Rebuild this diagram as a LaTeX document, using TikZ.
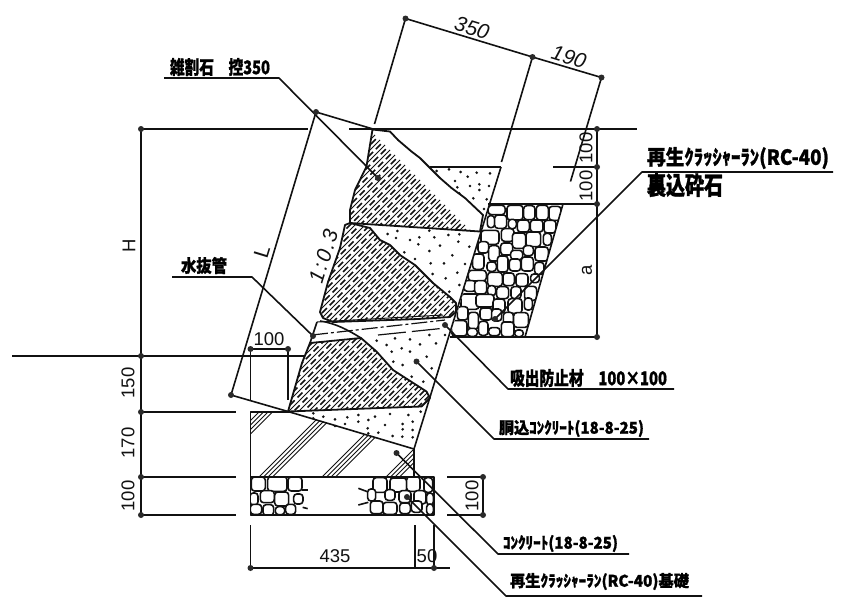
\documentclass[tikz,border=0pt]{standalone}
\usepackage{graphicx}
\usepackage{fontspec}
\setmainfont{Liberation Sans}
\newfontfamily\jp[BoldFeatures={FakeBold=1.1}]{Noto Sans CJK JP}
\usetikzlibrary{calc}
\definecolor{ink}{HTML}{111111}
\definecolor{dotc}{HTML}{2A2A2A}
\newcommand{\cellb}[4]{\filldraw[fill=white,draw=ink,line width=1.6pt,rounded corners=3.2pt] ({#1-#3/2-3},{#2-#4/2-3}) rectangle ({#1+#3/2+3},{#2+#4/2+3});}
\newcommand{\jtext}[6]{\node[inner sep=0pt,anchor=center] (#1) at ({(#2+#3)/2},{(#4+#5)/2}) {\resizebox*{\dimexpr#3pt-#2pt\relax}{\dimexpr#5pt-#4pt\relax}{\jp\bfseries #6}};}
\tikzset{
 ln/.style={line width=1.6pt,draw=ink,line join=round},
 dimtxt/.style={inner sep=0pt,font=\fontsize{18.5}{18.5}\selectfont,text=ink},
 bigtxt/.style={inner sep=0pt,font=\fontsize{21}{21}\selectfont\itshape,text=ink},
 dimdot/.style={fill=dotc},
 gdot/.style={fill=ink},
 hatchsolid/.style={line width=1pt,draw=ink},
 hatchdash/.style={line width=1.5pt,draw=ink,dash pattern=on 7pt off 4pt},
 band/.style={line width=1pt,draw=ink}
}
\newcommand{\hatchstone}[1]{%
 \begin{scope}
  \clip #1;
  \foreach \k in {480,490,...,960}{\draw[hatchsolid] ({\k/2-120},{\k/2+120}) -- ({\k/2+120},{\k/2-120});}
  \foreach \k in {485,495,...,960}{\draw[hatchdash] ({\k/2-120},{\k/2+120}) -- ({\k/2+120},{\k/2-120});}
 \end{scope}
 \draw[ln,line width=1.8pt] #1;}
\begin{document}
\begin{tikzpicture}[x=1pt,y=-1pt]
\useasboundingbox (0,0) rectangle (843,603);
\fill[white] (0,0) rectangle (843,603);
% named points
\coordinate (dA) at (405.5,18.5);
\coordinate (dB) at (532.5,57);
\coordinate (dC) at (601.5,77.5);
\coordinate (dL1) at (316,112);
\coordinate (dL2) at (231,395);
\coordinate (wallTop) at (373,129);
\coordinate (wallBase) at (288,411.5);
\coordinate (backR) at (414,449);
\coordinate (fillTopR) at (501,167);
\coordinate (hL) at (141,129);
\coordinate (hG) at (141,356);
\coordinate (h1) at (141,412);
\coordinate (h2) at (141,477);
\coordinate (h3) at (141,515);
\coordinate (r0) at (597,129);
\coordinate (r1) at (597,167);
\coordinate (r2) at (597,204);
\coordinate (r3) at (597,337);
\coordinate (wA) at (250.5,349);
\coordinate (wB) at (288,349);
\coordinate (bA) at (250.5,568);
\coordinate (bB) at (434,568);
\coordinate (fA) at (483,477);
\coordinate (fB) at (483,515);
\coordinate (pStone) at (378,178);
\coordinate (pDrain) at (313,336);
\coordinate (pMat) at (445,325);
\coordinate (pFill) at (416.5,361.5);
\coordinate (pConc) at (396.5,453);
\coordinate (pBase) at (407,497);
\coordinate (pBack) at (495,319);

% dots of the fill
\begin{scope}[shift={(340,100)},x=.3333pt,y=-.3333pt]
\foreach \a/\b in {290/213,327/208,362/216,410/218,450/220,383/230,345/243,352/262,390/258,418/253,447/258,418/270,358/280,400/295,440/298,432/327,
143/402,172/393,168/414,210/420,238/412,268/392,283/412,325/405,358/403,355/425,388/440,235/433,300/437,337/466,375/492,268/453,193/457,272/490,312/490,352/518,225/477,278/522,317/535,358/555,328/575}
 {\fill[gdot] (\a,\b) circle (4.4);}
\end{scope}
\begin{scope}[shift={(230,300)},x=.3333pt,y=-.3333pt]
\foreach \a/\b in {440/122,495/115,540/118,598/105,645/105,470/135,515/145,570/133,618/130,433/152,485/155,540/155,590/170,490/185,518/195,605/205,545/230,580/245,250/340,280/350,315/358,352/352,385/345,435/350,480/342,535/345,572/335,250/355,385/365,345/372,315/378,415/360,465/375,518/372,548/365,413/385,445/398,488/408,518/388,548/390,415/400,517/410,548/412}
 {\fill[gdot] (\a,\b) circle (4.4);}
\end{scope}

% concrete hatch
\begin{scope}
 \clip (250.5,412) -- (290,412) -- (backR) -- (414,477) -- (250.5,477) -- cycle;
 \foreach \k in {671,675.5,680,684.5,736,740.5,745,749.5,799,803.5,808,812.5,863,867.5,872,876.5}
  {\draw[line width=1pt,draw=ink] ({\k/2-150},{\k/2+150}) -- ({\k/2+150},{\k/2-150});}
\end{scope}
\draw[ln] (250.5,477) -- (250.5,412) -- (290,412);
\draw[ln] (wallBase) -- (backR) -- (414,477);

% stones
\hatchstone{(372.5,129.5) -- (390,131.5) -- (398,140) -- (411.5,151.5) -- (420,158) -- (430,168) -- (440,178) -- (451.5,188) -- (465,198) -- (483,215) -- (480,231.5) -- (427,228) -- (350,223) -- (350,210) -- (355,190) -- (366.5,166.5) -- cycle}
\hatchstone{(350,223) -- (345,225) -- (340,248) -- (328,282) -- (320,312) -- (323,318) -- (333,322) -- (418,319) -- (450,317) -- (456,312) -- (456,303) -- (450,297) -- (433,283) -- (415,265) -- (400,255) -- (390,245) -- (380,240) -- (370,228) -- cycle}
\hatchstone{(310,343) -- (361,338) -- (376.5,351.5) -- (393,370) -- (426.5,391.5) -- (430,398) -- (421.5,406.5) -- (380,408) -- (288,411.5) -- (302,363) -- cycle}

% drain band
\draw[band] (317,322) -- (443,315);
\draw[band,line width=1.2pt,dash pattern=on 16pt off 3pt on 3pt off 3pt] (312,335) -- (445,320);
\draw[band,line width=1.2pt,dash pattern=on 28pt off 6pt] (378,335) -- (441,328.5);
\draw[ln] (317,322) -- (310,343);
\draw[ln] (320,321) .. controls (335,323) and (348,330) .. (361,338);

% cobble backing
\begin{scope}
 \clip (489.5,204) -- (563,204) -- (525,337) -- (450,337) -- cycle;
 \begin{scope}[shift={(340,100)},x=.3333pt,y=-.3333pt]
 \foreach \a/\b/\c/\d in {470/330/45/22,525/338/42/38,568/338/28/36,607/338/30/38,645/340/30/36,
  453/365/16/30,482/365/30/34,517/372/18/22,550/378/30/30,590/378/32/30,630/380/30/32,
  450/412/48/36,503/405/32/32,580/418/38/38,537/422/34/40,622/418/18/30,
  430/442/26/28,462/460/26/40,500/447/30/30,565/452/24/24,605/462/34/36,530/465/30/22,
  415/485/28/40,455/500/22/22,488/492/26/42,525/495/28/30,562/492/30/36,598/505/22/30,
  412/527/48/26,465/538/38/36,506/538/28/32,546/540/30/32,585/535/20/20,
  390/558/30/26,422/562/30/34,455/572/18/24,488/578/30/30,528/578/24/30,572/580/30/36,
  390/605/48/40,435/602/48/32,477/618/30/36,525/618/36/38,565/612/18/30,
  368/640/26/34,400/662/24/44,438/642/30/30,470/645/24/30,505/655/24/30,543/660/38/38,
  358/685/40/40,397/697/24/18,430/685/22/36,463/695/28/18,503/688/32/38,537/700/20/14}
  {\cellb{\a}{\b}{\c}{\d}}
 \end{scope}
\end{scope}
\draw[ln] (489.5,204) -- (563,204) -- (525,337) -- (450,337);

% foundation
\begin{scope}
 \clip (250.5,477) rectangle (434,515);
 \begin{scope}[shift={(230,300)},x=.3333pt,y=-.3333pt]
 \foreach \a/\b/\c/\d in {85/552/36/36,142/552/52/38,195/552/36/36,72/597/18/30,112/590/36/30,155/597/36/36,205/597/22/24,78/628/28/24,115/630/26/26,150/632/22/18,182/628/24/24,
  450/555/36/38,505/555/44/36,550/552/34/38,595/555/20/38,425/585/18/30,480/585/24/26,525/590/30/30,570/592/30/34,600/597/14/30,440/622/32/32,480/625/36/30,525/625/26/26,560/620/26/28,600/628/14/26}
  {\cellb{\a}{\b}{\c}{\d}}
 \draw[ln] (215,570) -- (233,570);
 \draw[ln] (218,622) -- (233,626);
 \draw[ln] (385,565) -- (412,575);
 \draw[ln] (385,615) -- (415,607);
 \end{scope}
\end{scope}
\draw[ln] (250.5,477) rectangle (434,515);

% wall back line and its extension
\draw[ln] (backR) -- (fillTopR);
\draw[ln] (430,167) -- (fillTopR);
\draw[ln] (501.5,162) -- (dB);
\draw[ln] (488,204) -- (r2);
\draw[ln] (525,337) -- (r3);
\draw[ln] (553,167) -- (r1);

% dimension lines
\draw[ln] (dA) -- (dB) -- (dC);
\draw[ln] (dA) -- (374.5,124);
\draw[ln] (dC) -- (570.5,181.5);
\draw[ln] (dL1) -- (dL2);
\draw[ln] (dL1) -- (wallTop);
\draw[ln] (dL2) -- (wallBase);
\draw[ln] (hL) -- (308,129);
\draw[ln] (349,129) -- (637,129);
\draw[ln] (hL) -- (h3);
\draw[ln] (12,356) -- (305,356);
\draw[ln] (h1) -- (236,412);
\draw[ln] (h2) -- (236,477);
\draw[ln] (h3) -- (236,515);
\draw[ln] (r0) -- (r3);
\draw[ln] (wA) -- (wB);
\draw[ln] (wA) -- (250.5,401);
\draw[ln] (wB) -- (288,400);
\draw[ln] (250.5,525) -- (bA) -- (bB) -- (450,568);
\draw[ln] (415,525) -- (415,568);
\draw[ln] (bB) -- (434,525);
\draw[ln] (447,477) -- (fA) -- (fB) -- (447,515);

% leaders
\draw[ln] (164,78) -- (279,78) -- (pStone);
\draw[ln] (172,277) -- (252,277) -- (pDrain);
\draw[ln] (pBack) -- (642,172) -- (833,172);
\draw[ln] (pMat) -- (508,389) -- (674,389);
\draw[ln] (pFill) -- (494,439) -- (649,439);
\draw[ln] (pConc) -- (498,554) -- (629,554);
\draw[ln] (pBase) -- (506,596) -- (702,596);

% dots
\foreach \p in {dA,dB,dC,dL1,dL2,hL,hG,h1,h2,h3,r0,r1,r2,r3,wA,wB,bA,bB,fA,fB,pStone,pDrain,pMat,pFill,pConc,pBase,pBack}
 {\fill[dimdot] (\p) circle (3);}

% dimension text
\node[bigtxt,rotate=-17] (t350) at (472,28) {350};
\node[bigtxt,rotate=-17] (t190) at (569,57) {190};
\node[dimtxt,rotate=73] (tL) at (262,252) {\fontsize{21}{21}\selectfont L};
\node[bigtxt,rotate=73] (tslope) at (324,256) {\addfontfeature{LetterSpace=9}1:0.3};
\node[dimtxt,rotate=90] (tH) at (129,246) {H};
\node[dimtxt,rotate=90] (t150) at (128,383) {150};
\node[dimtxt,rotate=90] (t170) at (128,443) {170};
\node[dimtxt,rotate=90] (t100a) at (128,496) {100};
\node[dimtxt] (t100b) at (269,339) {100};
\node[dimtxt,rotate=90] (t100c) at (586,148) {100};
\node[dimtxt,rotate=90] (t100d) at (586,186) {100};
\node[dimtxt,rotate=90] (ta) at (587,270) {a};
\node[dimtxt,rotate=90] (t100e) at (472,496) {100};
\node[dimtxt] (t435) at (335,556) {435};
\node[dimtxt] (t50) at (427,556) {50};

% labels
\jtext{l1}{170}{270}{58}{76}{雑割石　控350}
\jtext{l2}{181}{227}{257}{274}{水抜管}
\jtext{l3}{647}{829}{147}{169}{再生ｸﾗｯｼｬｰﾗﾝ(RC-40)}
\jtext{l4}{647}{723}{173}{197}{裏込砕石}
\jtext{l5}{510}{667}{369}{387}{吸出防止材　100×100}
\jtext{l6}{499}{644}{420}{437}{胴込ｺﾝｸﾘｰﾄ(18-8-25)}
\jtext{l7}{503}{618}{535}{552}{ｺﾝｸﾘｰﾄ(18-8-25)}
\jtext{l8}{510}{689}{573}{590}{再生ｸﾗｯｼｬｰﾗﾝ(RC-40)基礎}
\end{tikzpicture}
\end{document}
